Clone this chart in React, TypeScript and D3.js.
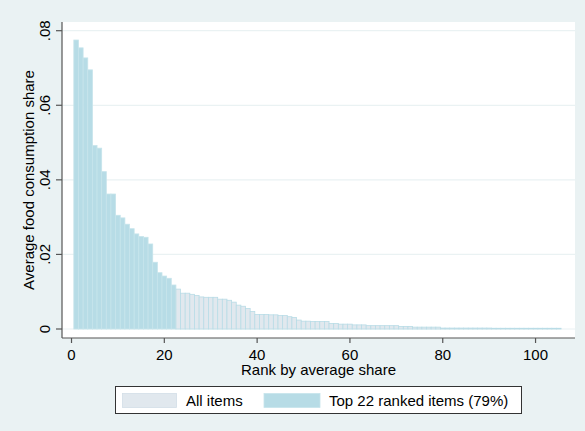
import React from "react";
import * as d3 from "d3";

const shares: number[] = [
  0.0775, 0.0754, 0.0727, 0.0695, 0.0492, 0.0485, 0.0422, 0.0362, 0.0362, 0.0305,
  0.0298, 0.0281, 0.0269, 0.0255, 0.0248, 0.0246, 0.0228, 0.0179, 0.0151, 0.0142,
  0.0136, 0.0118, 0.0107, 0.0096, 0.0096, 0.0093, 0.0090, 0.0086, 0.0085, 0.0085,
  0.0085, 0.0080, 0.0080, 0.0077, 0.0072, 0.0064, 0.0061, 0.0055, 0.0047, 0.0039,
  0.0039, 0.0039, 0.0038, 0.0038, 0.0036, 0.0036, 0.0033, 0.0031, 0.0024, 0.0021,
  0.0021, 0.0020, 0.0020, 0.0020, 0.0020, 0.0015, 0.0015, 0.0013, 0.0013, 0.0013,
  0.0011, 0.0011, 0.0011, 0.0009, 0.0009, 0.0009, 0.0009, 0.0009, 0.0009, 0.0009,
  0.0007, 0.0007, 0.0007, 0.0005, 0.0005, 0.0005, 0.0005, 0.0005, 0.0005, 0.00025,
  0.00025, 0.00025, 0.00025, 0.00025, 0.00025, 0.00025, 0.00025, 0.00025, 0.00025, 0.00025,
  0.0002, 0.0002, 0.0002, 0.0002, 0.0002, 0.0002, 0.0002, 0.0002, 0.0002, 0.0002,
  0.0002, 0.0002, 0.0002, 0.0002, 0.0002,
];
const topN = 22;
const xTicks: number[] = [0, 20, 40, 60, 80, 100];
const yTicks: number[] = [0, 0.02, 0.04, 0.06, 0.08];
const yTickLabels: string[] = ["0", ".02", ".04", ".06", ".08"];
const legendLabels: string[] = ["All items", "Top 22 ranked items (79%)"];
const xTitle = "Rank by average share";
const yTitle = "Average food consumption share";

const W = 585;
const H = 431;
const PL = 62, PR = 575, PT = 22, PB = 338;
const FONT = "'Liberation Sans', Arial, Helvetica, sans-serif";
const BG = "#EAF2F3";
const TOP_FILL = "#B7DCE6";
const TOP_STROKE = "#C6E4EB";
const ALL_FILL = "#E1E8EE";
const ALL_STROKE = "#B9DCE6";
const AXIS = "#555555";

export default function App() {
  const x = d3.scaleLinear().domain([-2.05, 108.5]).range([PL, PR]);
  const y = d3.scaleLinear().domain([0, 0.08]).range([329, 30.7]);
  const data = shares.map((v, i) => ({ rank: i + 1, v }));

  return (
    <svg
      width={W}
      height={H}
      style={{ position: "absolute", left: 0, top: 0, display: "block" }}
      fontFamily={FONT}
    >
      <rect x={0} y={0} width={W} height={H} fill={BG} />
      <rect x={PL} y={PT} width={PR - PL} height={PB - PT} fill="#ffffff" />
      {yTicks.map((t) => (
        <line key={"g" + t} x1={PL} x2={PR} y1={y(t)} y2={y(t)} stroke={BG} strokeWidth={1.2} />
      ))}
      {data.map((d) => {
        const top = d.rank <= topN;
        const x0 = x(d.rank - 0.5);
        const x1 = x(d.rank + 0.5);
        return (
          <rect
            key={d.rank}
            x={x0}
            y={y(d.v)}
            width={x1 - x0}
            height={y(0) - y(d.v)}
            fill={top ? TOP_FILL : ALL_FILL}
            stroke={top ? TOP_STROKE : ALL_STROKE}
            strokeWidth={0.8}
          />
        );
      })}
      <line x1={PL} x2={PL} y1={PT} y2={PB} stroke={AXIS} strokeWidth={1.2} />
      <line x1={PL} x2={PR} y1={PB} y2={PB} stroke={AXIS} strokeWidth={1.2} />
      {yTicks.map((t, i) => (
        <g key={"y" + t}>
          <line x1={56} x2={PL} y1={y(t)} y2={y(t)} stroke={AXIS} strokeWidth={1.2} />
          <text
            x={50}
            y={y(t)}
            transform={`rotate(-90, 50, ${y(t)})`}
            textAnchor="middle"
            fontSize={15}
            fill="#000"
          >
            {yTickLabels[i]}
          </text>
        </g>
      ))}
      {xTicks.map((t) => (
        <g key={"x" + t}>
          <line x1={x(t)} x2={x(t)} y1={PB} y2={343} stroke={AXIS} strokeWidth={1.2} />
          <text x={x(t)} y={360} textAnchor="middle" fontSize={15} fill="#000">
            {t}
          </text>
        </g>
      ))}
      <text x={(PL + PR) / 2} y={374.5} textAnchor="middle" fontSize={15} fill="#000">
        {xTitle}
      </text>
      <text
        x={33.5}
        y={(PT + PB) / 2}
        transform={`rotate(-90, 33.5, ${(PT + PB) / 2})`}
        textAnchor="middle"
        fontSize={15}
        fill="#000"
      >
        {yTitle}
      </text>
      <rect x={115.5} y={386.5} width={406} height={27} fill="#ffffff" stroke="#333333" strokeWidth={1} />
      <rect x={122.5} y={393.5} width={54} height={14} fill={ALL_FILL} stroke="#D3DEE6" strokeWidth={0.8} />
      <text x={186} y={406} fontSize={15} fill="#000">
        {legendLabels[0]}
      </text>
      <rect x={264} y={393.5} width={56} height={14} fill={TOP_FILL} stroke={TOP_STROKE} strokeWidth={0.8} />
      <text x={329} y={406} fontSize={15} fill="#000">
        {legendLabels[1]}
      </text>
    </svg>
  );
}
